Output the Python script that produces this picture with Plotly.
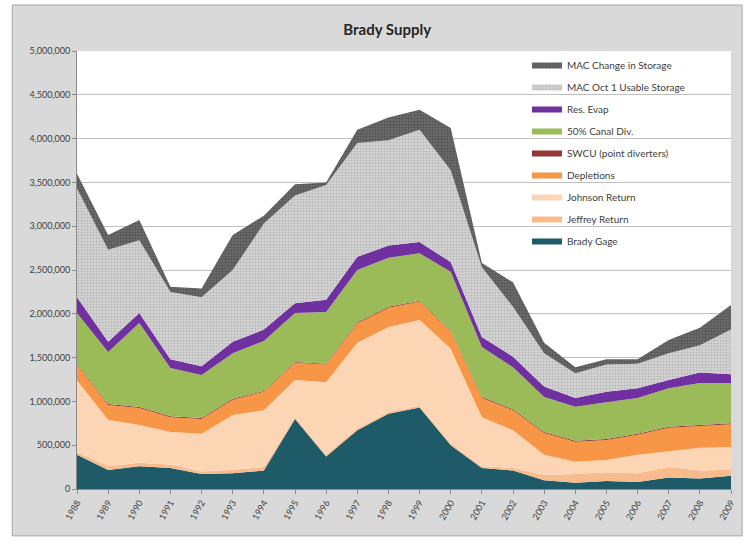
import plotly.graph_objects as go

years = [str(y) for y in range(1988, 2010)]

# annual volumes by component (acre-feet)
brady_gage = [390000, 217000, 260000, 240000, 170000, 180000, 210000, 800000, 370000, 670000, 860000,
              930000, 500000, 240000, 210000, 100000, 70000, 90000, 80000, 130000, 120000, 150000]
jeffrey_return = [30000, 43000, 40000, 40000, 30000, 40000, 40000, 20000, 20000, 20000, 20000,
                  20000, 20000, 20000, 30000, 60000, 100000, 100000, 100000, 120000, 90000, 70000]
johnson_return = [820000, 530000, 430000, 370000, 430000, 625000, 650000, 425000, 830000, 980000, 970000,
                  980000, 1080000, 560000, 430000, 230000, 140000, 140000, 210000, 180000, 260000, 260000]
depletions = [175000, 170000, 195000, 170000, 170000, 175000, 210000, 195000, 200000, 220000, 220000,
              210000, 200000, 220000, 230000, 250000, 230000, 230000, 230000, 270000, 250000, 260000]
swcu = [10000] * 22
canal_div = [585000, 595000, 960000, 550000, 490000, 520000, 570000, 560000, 590000, 600000, 560000,
             540000, 670000, 570000, 480000, 400000, 390000, 420000, 410000, 440000, 480000, 460000]
res_evap = [180000, 115000, 115000, 100000, 100000, 130000, 130000, 110000, 140000, 150000, 140000,
            130000, 110000, 115000, 120000, 120000, 100000, 120000, 110000, 95000, 120000, 100000]
mac_usable = [1240000, 1050000, 830000, 770000, 790000, 820000, 1210000, 1230000, 1310000, 1300000, 1200000,
              1280000, 1050000, 795000, 570000, 380000, 280000, 310000, 280000, 305000, 310000, 510000]
mac_change = [170000, 170000, 230000, 60000, 100000, 400000, 90000, 130000, 30000, 150000, 260000,
              230000, 480000, 50000, 280000, 120000, 70000, 60000, 50000, 150000, 200000, 280000]

series = [
    ("Brady Gage", brady_gage, "#1F5A68", None),
    ("Jeffrey Return", jeffrey_return, "#F8BC8C", None),
    ("Johnson Return", johnson_return, "#FCD5B5", None),
    ("Depletions", depletions, "#F79646", None),
    ("SWCU (point diverters)", swcu, "#953735", None),
    ("50% Canal Div.", canal_div, "#9BBB59", None),
    ("Res. Evap", res_evap, "#7030A0", None),
    ("MAC Oct 1 Usable Storage", mac_usable, "#D0D0D0",
     dict(shape=".", fgcolor="#959595", bgcolor="#D4D4D4", size=3, solidity=0.35)),
    ("MAC Change in Storage", mac_change, "#555555",
     dict(shape=".", fgcolor="#3C3C3C", bgcolor="#6A6A6A", size=3, solidity=0.4)),
]

fig = go.Figure()
for i, (name, vals, color, pattern) in enumerate(series):
    kw = dict(fillcolor=color)
    if pattern:
        kw["fillpattern"] = pattern
    fig.add_trace(go.Scatter(
        x=years, y=vals, name=name, mode="none", stackgroup="one",
        line=dict(width=0), legendgroup=name, legendrank=100 - i, **kw))

# framed grey chart area, with the plot area itself kept white
fig.add_shape(type="rect", xref="paper", yref="paper",
              x0=-0.099, x1=1.017, y0=-0.107, y1=1.105,
              fillcolor="#D9D9D9", line=dict(color="#A6A6A6", width=1), layer="below")
fig.add_shape(type="rect", xref="paper", yref="paper",
              x0=0, x1=1, y0=0, y1=1,
              fillcolor="white", line=dict(width=0), layer="below")

fig.update_layout(
    width=749, height=542,
    margin=dict(l=77, r=15, t=51, b=53),
    paper_bgcolor="white",
    plot_bgcolor="white",
    font=dict(family="Lato, Open Sans, sans-serif", color="#404040"),
    title=dict(text="<b>Brady Supply</b>", x=0.517, xref="container", xanchor="center",
               y=0.945, yanchor="middle", font=dict(size=15, color="#262626")),
    showlegend=True,
    legend=dict(x=0.688, y=1.0, xanchor="left", yanchor="top",
                traceorder="grouped", tracegroupgap=3,
                bgcolor="rgba(255,255,255,0)", font=dict(size=10, color="#404040"),
                itemwidth=30),
    xaxis=dict(type="category", range=[0, 21], showgrid=False, showline=True,
               linecolor="#8C8C8C", linewidth=1, ticks="outside", ticklen=4,
               tickcolor="#8C8C8C", tickangle=-60, tickfont=dict(size=9, color="#404040")),
    yaxis=dict(range=[0, 5000000], dtick=500000, tickformat=",d", showgrid=True,
               gridcolor="#BFBFBF", gridwidth=1, showline=True, linecolor="#8C8C8C",
               ticks="outside", ticklen=4, tickcolor="#8C8C8C", zeroline=False,
               tickfont=dict(size=9, color="#404040")),
)

fig.write_html("out.html")
